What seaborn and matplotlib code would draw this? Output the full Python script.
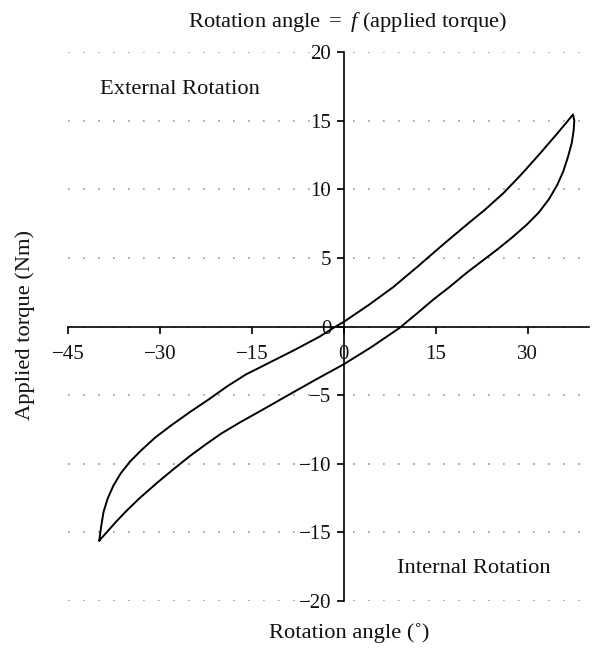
import matplotlib
matplotlib.use("Agg")
import matplotlib.pyplot as plt
import numpy as np
import pandas as pd
import seaborn as sns

# loading branch (bottom-left tip -> top-right tip)
up_angle = [-39.9, -39.6, -39.2, -38.5, -37.6, -36.4, -34.9, -33.0, -30.8, -28.0,
            -25.0, -22.0, -19.0, -16.0, -12.0, -8.0, -4.0, -1.5, 0.0, 4.0, 8.0,
            12.0, 16.0, 20.0, 23.0, 26.0, 29.0, 32.0, 34.7, 36.3, 37.4]
up_torque = [-15.6, -14.6, -13.5, -12.5, -11.6, -10.7, -9.85, -9.0, -8.1, -7.15,
             -6.2, -5.3, -4.35, -3.5, -2.6, -1.7, -0.75, -0.05, 0.34, 1.55, 2.85,
             4.35, 5.9, 7.4, 8.5, 9.7, 11.1, 12.6, 14.0, 14.85, 15.45]
# unloading branch (top-right tip -> bottom-left tip)
down_angle = [37.6, 37.5, 37.2, 36.6, 35.8, 34.8, 33.5, 31.8, 29.8, 27.5, 25.0,
              22.5, 20.0, 17.3, 14.6, 11.8, 9.1, 4.5, 0.0, -4.5, -8.8, -13.0,
              -17.0, -20.0, -22.4, -25.0, -27.8, -30.5, -33.3, -35.5, -37.1,
              -38.6, -39.9]
down_torque = [15.0, 14.3, 13.4, 12.4, 11.3, 10.3, 9.3, 8.3, 7.4, 6.5, 5.6,
               4.75, 3.9, 2.9, 1.96, 0.9, -0.1, -1.5, -2.75, -3.85, -4.93, -6.0,
               -7.0, -7.8, -8.55, -9.4, -10.4, -11.4, -12.5, -13.45, -14.2,
               -14.95, -15.6]

x_ticks = [-45, -30, -15, 0, 15, 30]
y_ticks = [-20, -15, -10, -5, 0, 5, 10, 15, 20]

sns.set_theme(style="white")
plt.rcParams["font.family"] = ["Liberation Serif", "DejaVu Serif"]
plt.rcParams["mathtext.fontset"] = "custom"
plt.rcParams["mathtext.rm"] = "Liberation Serif"
plt.rcParams["mathtext.it"] = "Liberation Serif:italic"

df = pd.DataFrame({
    "angle": up_angle + down_angle,
    "torque": up_torque + down_torque,
})

fig = plt.figure(figsize=(6.02, 6.59), dpi=100)
ax = fig.add_axes([68 / 602, 58 / 659, (589 - 68) / 602, 549 / 659])

sns.lineplot(data=df, x="angle", y="torque", sort=False, estimator=None,
             color="black", linewidth=1.4, ax=ax)
ax.lines[0].set_solid_joinstyle("round")

ax.set_xlim(-45, 40)
ax.set_ylim(-20, 20)
ax.set_xticks(x_ticks)
ax.set_yticks(y_ticks)
ax.set_xlabel("")
ax.set_ylabel("")

for side in ["top", "right"]:
    ax.spines[side].set_visible(False)
ax.spines["left"].set_position(("data", 0))
ax.spines["bottom"].set_position(("data", 0))
for side in ["left", "bottom"]:
    ax.spines[side].set_color("black")
    ax.spines[side].set_linewidth(1.2)

ax.tick_params(axis="both", direction="out", length=5, width=1.2, color="black",
               labelsize=15, labelcolor="#111111")
ax.tick_params(axis="x", bottom=True, pad=8)
ax.tick_params(axis="y", left=True, pad=4)

ax.yaxis.grid(True, color="#999999", linestyle=(0, (1, 8)), linewidth=1.2)
ax.xaxis.grid(False)
ax.set_axisbelow(True)

label_size = 16.2
fig.text(348 / 602, 1 - 22 / 659, r"Rotation angle $=$ $f$ (applied torque)",
         ha="center", va="center", fontsize=label_size, color="#111111")
fig.text(349 / 602, 1 - 633 / 659, "Rotation angle (˚)",
         ha="center", va="center", fontsize=label_size, color="#111111")
fig.text(25 / 602, 1 - 325 / 659, "Applied torque (Nm)", rotation=90,
         ha="center", va="center", fontsize=label_size, color="#111111")
ax.text(-39.8, 17.3, "External Rotation", ha="left", va="center",
        fontsize=label_size, color="#111111")
ax.text(8.7, -17.6, "Internal Rotation", ha="left", va="center",
        fontsize=label_size, color="#111111")

fig.savefig("out.png", dpi=100)
